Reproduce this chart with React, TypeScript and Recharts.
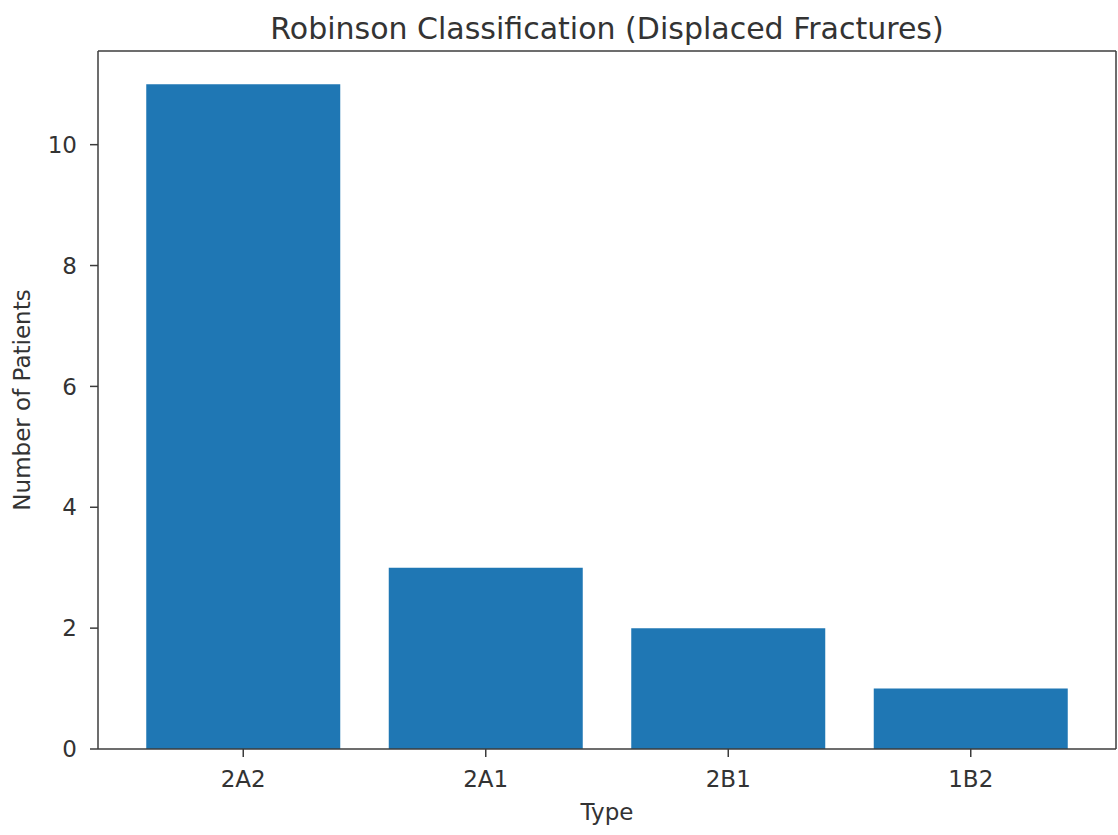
import { Bar, BarChart, Label, XAxis, YAxis } from "recharts";

const types = ["2A2", "2A1", "2B1", "1B2"];
const patients = [11, 3, 2, 1];
const yTicks = [0, 2, 4, 6, 8, 10];

const data = types.map((type, i) => ({ type, patients: patients[i] }));

const ink = "#333333";
const spine = "#3c3c3c";
const font = "DejaVu Sans, sans-serif";

export default function App() {
  return (
    <div style={{ position: "absolute", left: 0, top: 0, width: 1118, height: 835, background: "#fff" }}>
      <BarChart
        width={1118}
        height={835}
        data={data}
        margin={{ top: 50, right: 1, bottom: 0, left: 0 }}
        barCategoryGap="10%"
        style={{ fontFamily: font }}
      >
        <XAxis
          xAxisId="b"
          dataKey="type"
          height={86}
          padding={{ left: 24, right: 24 }}
          stroke={spine}
          strokeWidth={1.5}
          tickSize={8}
          tickMargin={14}
          tick={{ fill: ink, fontSize: 23, fontFamily: font }}
        >
          <Label value="Type" position="insideBottom" offset={15} fill={ink} fontSize={23} fontFamily={font} />
        </XAxis>
        {/* top and right axes only draw the frame */}
        <XAxis
          xAxisId="t"
          dataKey="type"
          orientation="top"
          height={1}
          padding={{ left: 24, right: 24 }}
          tick={false}
          tickLine={false}
          stroke={spine}
          strokeWidth={1.5}
        >
          <Label
            value="Robinson Classification (Displaced Fractures)"
            position="top"
            offset={11}
            fill={ink}
            fontSize={30}
            fontFamily={font}
          />
        </XAxis>
        <YAxis
          yAxisId="l"
          width={98}
          domain={[0, 11.55]}
          ticks={yTicks}
          allowDataOverflow
          stroke={spine}
          strokeWidth={1.5}
          tickSize={8}
          tickMargin={13}
          tick={{ fill: ink, fontSize: 23, fontFamily: font }}
        >
          <Label
            content={({ viewBox }: any) => (
              <text
                x={22}
                y={viewBox.y + viewBox.height / 2}
                transform={`rotate(-90, 22, ${viewBox.y + viewBox.height / 2})`}
                textAnchor="middle"
                dominantBaseline="central"
                fill={ink}
                fontSize={23}
                fontFamily={font}
              >
                Number of Patients
              </text>
            )}
          />
        </YAxis>
        <YAxis
          yAxisId="r"
          orientation="right"
          width={1}
          domain={[0, 11.55]}
          allowDataOverflow
          tick={false}
          tickLine={false}
          stroke={spine}
          strokeWidth={1.5}
        />
        <Bar xAxisId="b" yAxisId="l" dataKey="patients" fill="#1f77b4" isAnimationActive={false} />
        <Bar xAxisId="t" yAxisId="r" dataKey="patients" fill="none" legendType="none" isAnimationActive={false} />
      </BarChart>
    </div>
  );
}
